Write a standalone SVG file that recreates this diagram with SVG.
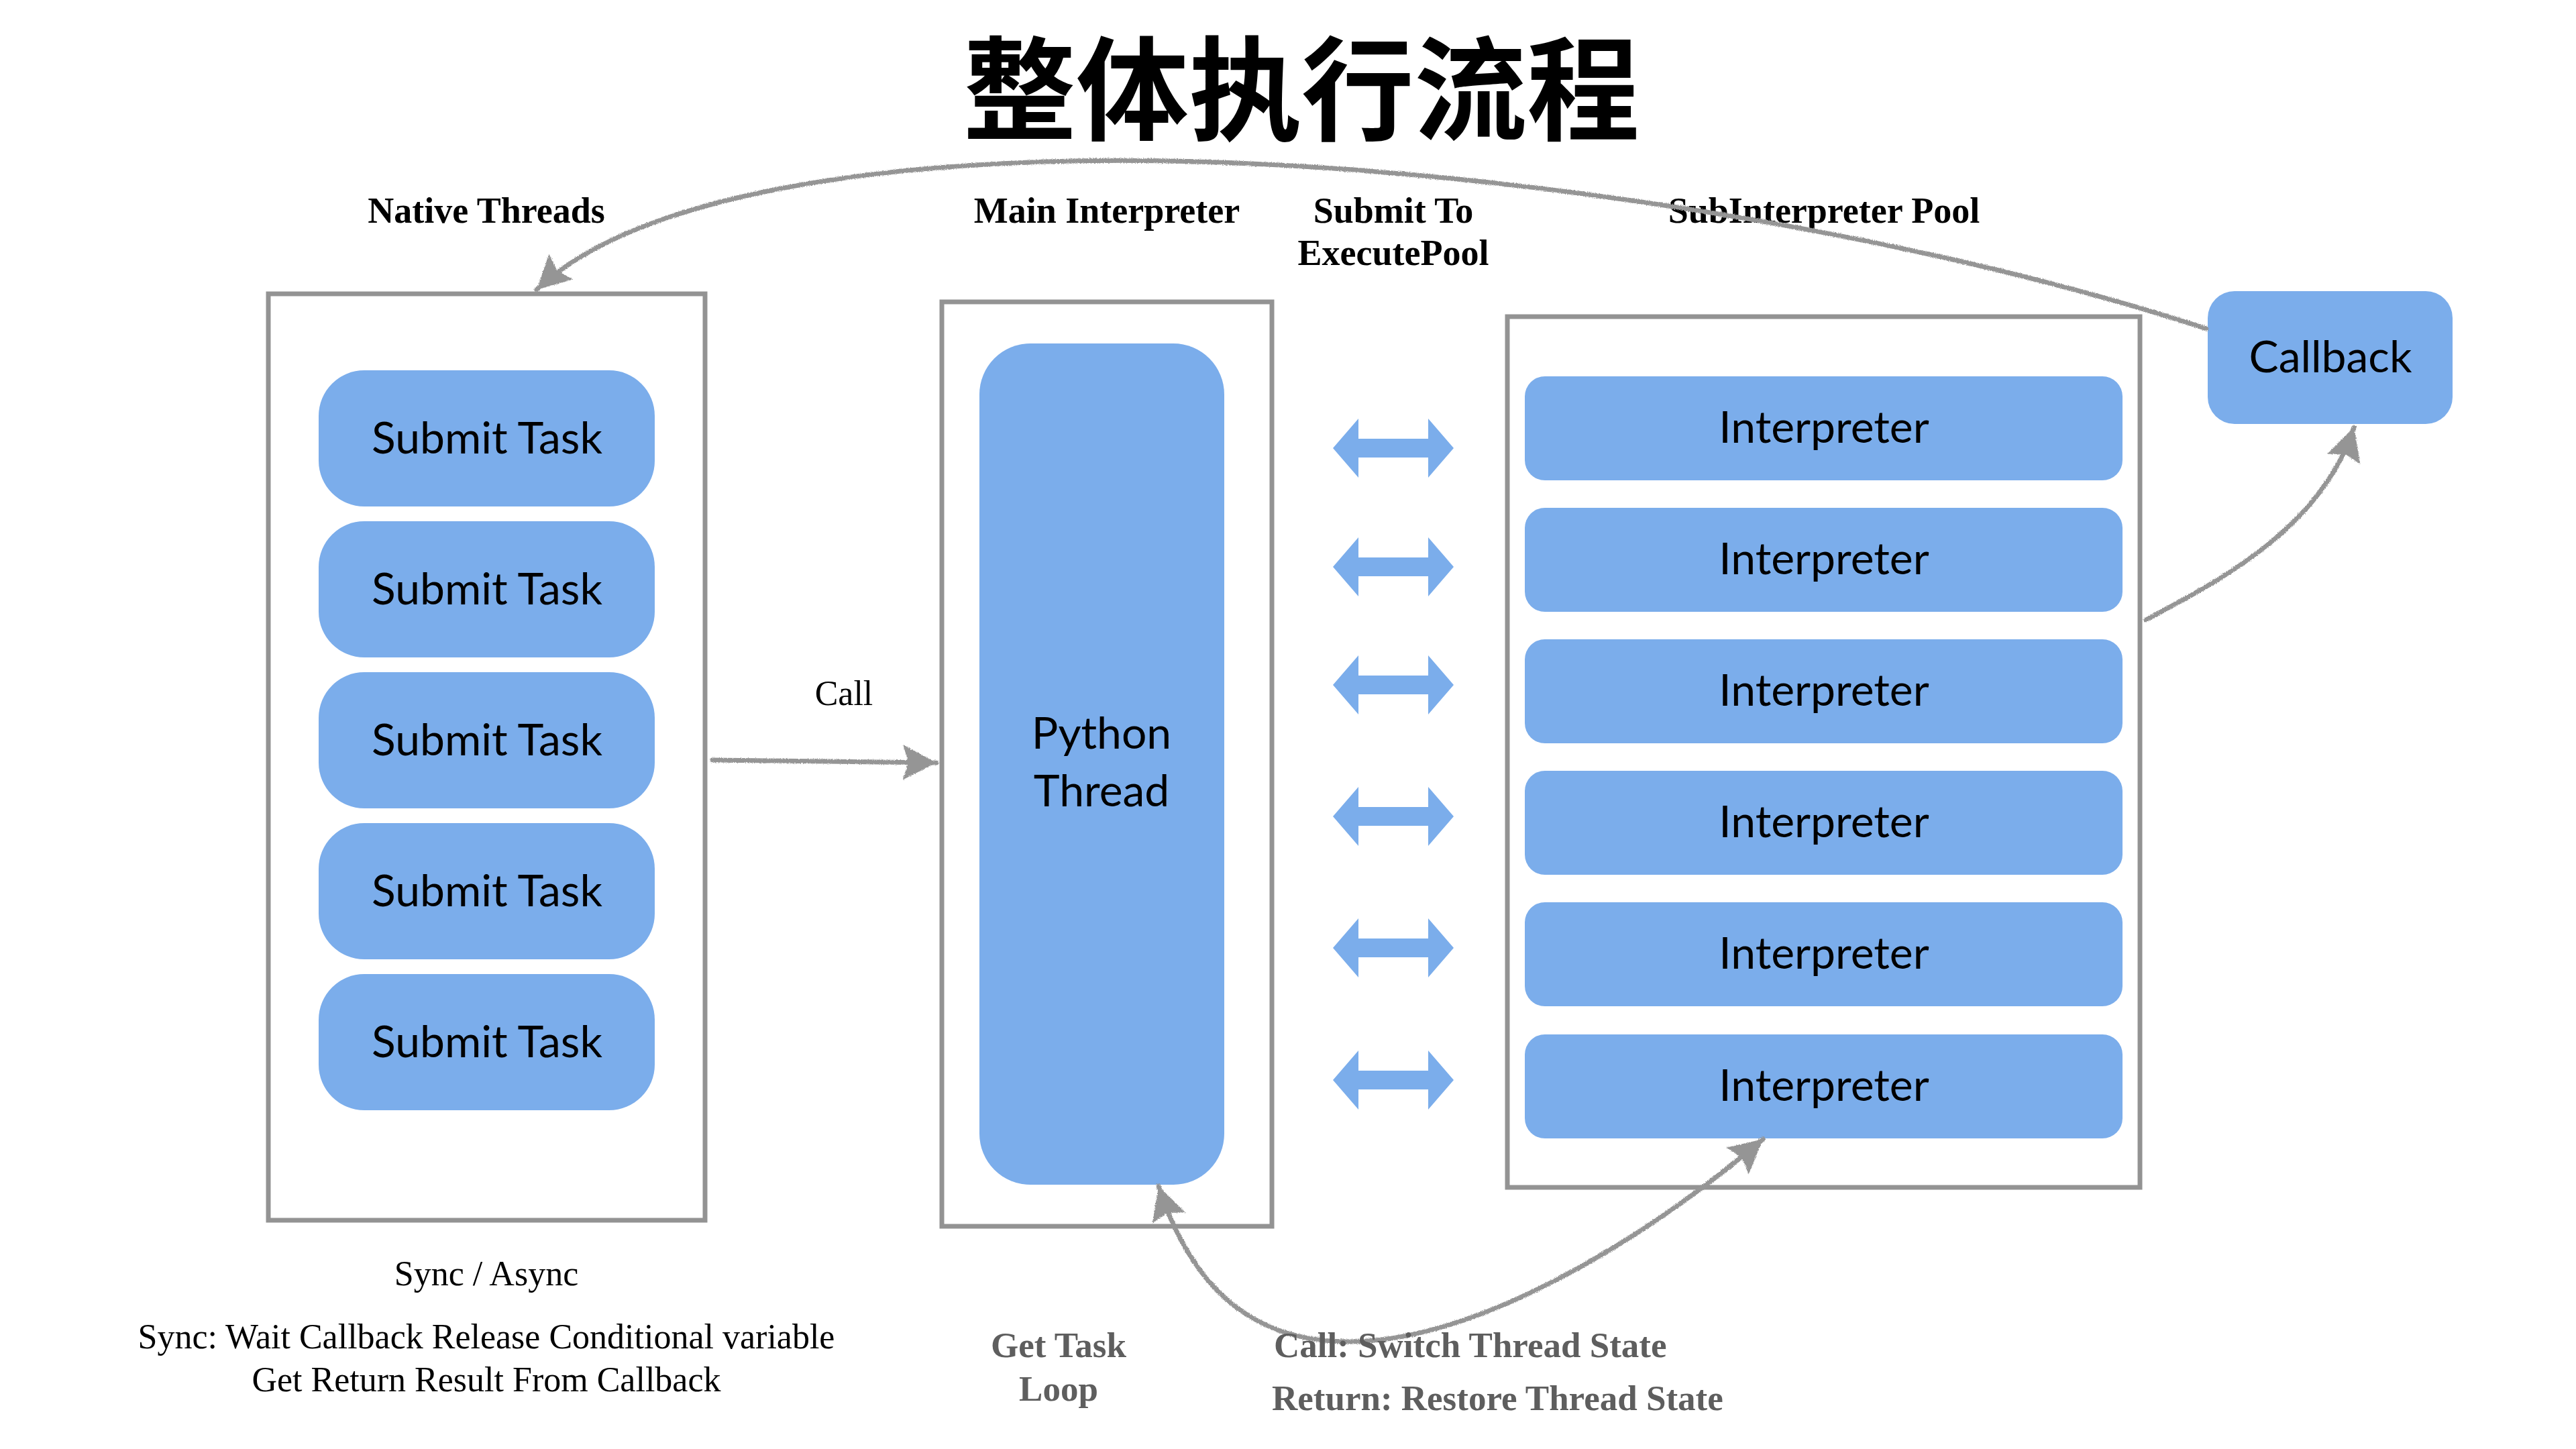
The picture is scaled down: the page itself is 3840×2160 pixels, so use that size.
<svg xmlns="http://www.w3.org/2000/svg" width="3840" height="2160" viewBox="0 0 3840 2160">
<style>
.frame{fill:#ffffff;stroke:#939393;stroke-width:7}
.blue{fill:#7badeb}
.box{font-family:Lato,"Noto Sans",sans-serif;font-size:66px;fill:#000;text-anchor:middle}
.hdr{font-family:"Liberation Serif",serif;font-weight:bold;font-size:54px;fill:#000;text-anchor:middle}
.note{font-family:"Liberation Serif",serif;font-size:52px;fill:#000;text-anchor:middle}
.gray{font-family:"Liberation Serif",serif;font-weight:bold;font-size:53px;fill:#5e5e5e}
.title{font-family:"Noto Sans CJK SC","Noto Sans CJK TC",sans-serif;font-weight:700;font-size:168px;fill:#000;text-anchor:middle}
.wire{fill:none;stroke:#959595;stroke-width:7;stroke-linecap:round}
</style>
<defs>
<filter id="pencil" x="-5%" y="-5%" width="110%" height="110%">
<feTurbulence type="fractalNoise" baseFrequency="0.9" numOctaves="2" seed="3" result="n"/>
<feDisplacementMap in="SourceGraphic" in2="n" scale="4" xChannelSelector="R" yChannelSelector="G"/>
</filter>
<marker id="ah" markerUnits="userSpaceOnUse" markerWidth="70" markerHeight="70" viewBox="-60 -35 70 70" refX="0" refY="0" orient="auto-start-reverse">
<path d="M0,0 L-50,-26 L-42,0 L-50,26 Z" fill="#959595"/>
</marker>
<path id="dbl" class="blue" d="M-90,0 L-52,-44 L-52,-14 L52,-14 L52,-44 L90,0 L52,44 L52,14 L-52,14 L-52,44 Z"/>
</defs>
<rect width="3840" height="2160" fill="#ffffff"/>
<g id="title"><text class="title" x="1940" y="196">整体执行流程</text></g>
<g id="headers">
<text class="hdr" x="725" y="332">Native Threads</text>
<text class="hdr" x="1650" y="332">Main Interpreter</text>
<text class="hdr" x="2077" y="332">Submit To</text>
<text class="hdr" x="2077" y="395">ExecutePool</text>
<text class="hdr" x="2719" y="332">SubInterpreter Pool</text>
</g>
<g id="native-threads">
<rect class="frame" x="400" y="438" width="651" height="1381"/>
<g id="submit-task-1"><rect class="blue" x="475" y="552" width="501" height="203" rx="68"/><text class="box" x="726" y="676">Submit Task</text></g>
<g id="submit-task-2"><rect class="blue" x="475" y="777" width="501" height="203" rx="68"/><text class="box" x="726" y="901">Submit Task</text></g>
<g id="submit-task-3"><rect class="blue" x="475" y="1002" width="501" height="203" rx="68"/><text class="box" x="726" y="1126">Submit Task</text></g>
<g id="submit-task-4"><rect class="blue" x="475" y="1227" width="501" height="203" rx="68"/><text class="box" x="726" y="1351">Submit Task</text></g>
<g id="submit-task-5"><rect class="blue" x="475" y="1452" width="501" height="203" rx="68"/><text class="box" x="726" y="1576">Submit Task</text></g>
</g>
<g id="main-interpreter">
<rect class="frame" x="1404" y="450" width="492" height="1378"/>
<g id="python-thread"><rect class="blue" x="1460" y="512" width="365" height="1254" rx="76"/>
<text class="box" x="1642" y="1116">Python</text><text class="box" x="1642" y="1202">Thread</text></g>
</g>
<g id="subinterpreter-pool">
<rect class="frame" x="2247" y="472" width="943" height="1298"/>
<g id="interpreter-1"><rect class="blue" x="2273" y="561" width="891" height="155" rx="30"/><text class="box" x="2719" y="660">Interpreter</text></g>
<g id="interpreter-2"><rect class="blue" x="2273" y="757" width="891" height="155" rx="30"/><text class="box" x="2719" y="856">Interpreter</text></g>
<g id="interpreter-3"><rect class="blue" x="2273" y="953" width="891" height="155" rx="30"/><text class="box" x="2719" y="1052">Interpreter</text></g>
<g id="interpreter-4"><rect class="blue" x="2273" y="1149" width="891" height="155" rx="30"/><text class="box" x="2719" y="1248">Interpreter</text></g>
<g id="interpreter-5"><rect class="blue" x="2273" y="1345" width="891" height="155" rx="30"/><text class="box" x="2719" y="1444">Interpreter</text></g>
<g id="interpreter-6"><rect class="blue" x="2273" y="1542" width="891" height="155" rx="30"/><text class="box" x="2719" y="1641">Interpreter</text></g>
</g>
<g id="callback"><rect class="blue" x="3291" y="434" width="365" height="198" rx="40"/><text class="box" x="3474" y="555">Callback</text></g>
<g id="connectors">
<g filter="url(#pencil)">
<path class="wire" d="M3289,490 C2800,330 2100,230 1600,240 C1300,246 950,290 800,432" marker-end="url(#ah)"/>
<path class="wire" d="M1062,1133 L1396,1137" marker-end="url(#ah)"/>
<path class="wire" d="M3199,924 C3300,870 3460,790 3509,637" marker-end="url(#ah)"/>
<path class="wire" d="M1727,1768 C1770,1900 1850,2000 2010,2000 C2200,2000 2450,1850 2628,1698" marker-start="url(#ah)" marker-end="url(#ah)"/>
</g>
<use href="#dbl" x="2077" y="668"/>
<use href="#dbl" x="2077" y="845"/>
<use href="#dbl" x="2077" y="1021"/>
<use href="#dbl" x="2077" y="1217"/>
<use href="#dbl" x="2077" y="1413"/>
<use href="#dbl" x="2077" y="1610"/>
</g>
<g id="labels">
<text class="note" x="1258" y="1051">Call</text>
<text class="note" x="725" y="1916">Sync / Async</text>
<text class="note" x="725" y="2010">Sync: Wait Callback Release Conditional variable</text>
<text class="note" x="725" y="2074">Get Return Result From Callback</text>
<text class="gray" x="1578" y="2023" text-anchor="middle">Get Task</text>
<text class="gray" x="1578" y="2088" text-anchor="middle">Loop</text>
<text class="gray" x="1899" y="2023">Call: Switch Thread State</text>
<text class="gray" x="1896" y="2102">Return: Restore Thread State</text>
</g>
</svg>
